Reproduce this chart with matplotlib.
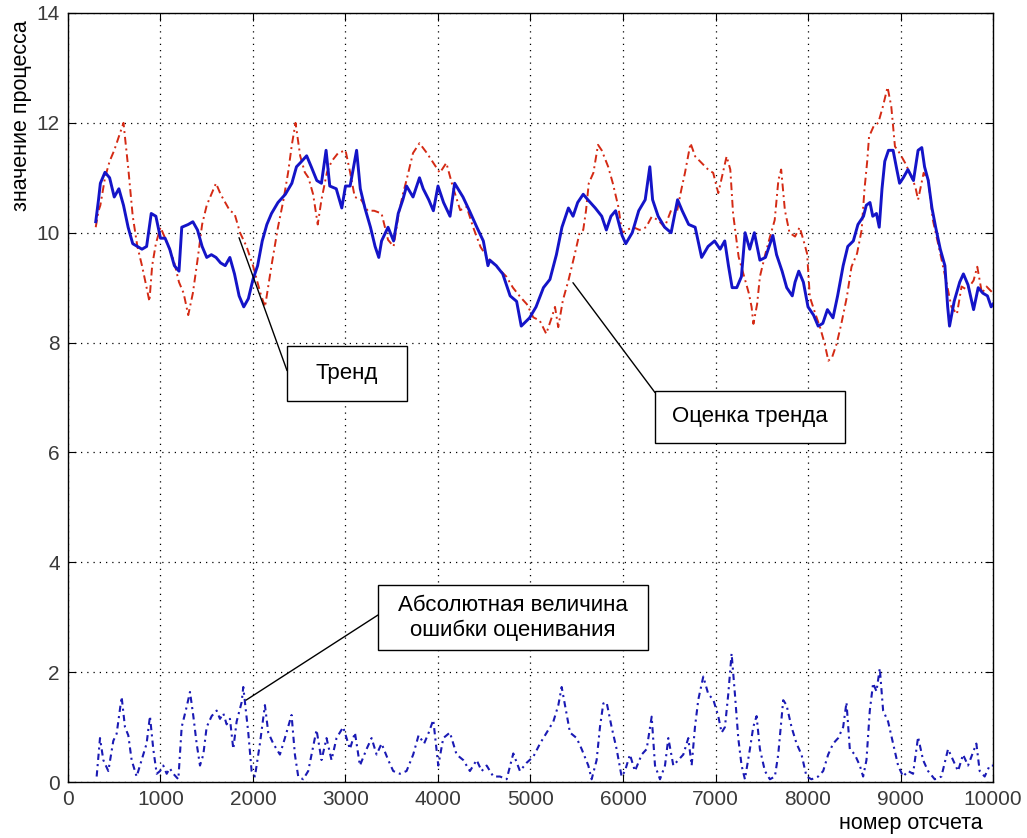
import matplotlib.pyplot as plt
from matplotlib.patches import Rectangle

# Тренд (синяя сплошная линия)
trend_x = [300, 330, 350, 400, 450, 500, 550, 600, 650, 700, 750, 800, 850, 900, 950,
           1000, 1050, 1100, 1150, 1200, 1230, 1300, 1350, 1400, 1450, 1500, 1550, 1600,
           1650, 1700, 1750, 1800, 1850, 1900, 1950, 2000, 2050, 2100, 2150, 2200, 2270,
           2350, 2420, 2470, 2510, 2580, 2630, 2690, 2740, 2790, 2830, 2900, 2960, 3000,
           3050, 3120, 3160, 3210, 3270, 3320, 3360, 3390, 3460, 3520, 3570, 3620, 3660,
           3730, 3800, 3840, 3900, 3950, 4000, 4060, 4130, 4180, 4270, 4340, 4420, 4490,
           4540, 4560, 4630, 4700, 4780, 4850, 4900, 4990, 5060, 5140, 5210, 5280, 5340,
           5410, 5460, 5510, 5570, 5620, 5700, 5770, 5820, 5870, 5920, 5990, 6030, 6100,
           6170, 6240, 6290, 6320, 6380, 6450, 6520, 6590, 6640, 6710, 6780, 6850, 6920,
           6990, 7050, 7100, 7140, 7180, 7230, 7280, 7320, 7370, 7420, 7480, 7540, 7590,
           7620, 7660, 7720, 7770, 7830, 7860, 7900, 7950, 8000, 8060, 8110, 8160, 8210,
           8270, 8320, 8380, 8430, 8490, 8540, 8600, 8630, 8670, 8700, 8740, 8770, 8800,
           8830, 8870, 8920, 8960, 8990, 9030, 9080, 9140, 9190, 9230, 9260, 9300, 9340,
           9380, 9430, 9480, 9510, 9530, 9580, 9640, 9680, 9730, 9790, 9840, 9890, 9940,
           9980, 10000]
trend_y = [10.2, 10.6, 10.9, 11.1, 11.0, 10.65, 10.8, 10.5, 10.1, 9.8, 9.75, 9.7, 9.75, 10.35, 10.3,
           9.9, 9.9, 9.7, 9.4, 9.3, 10.1, 10.15, 10.2, 10.05, 9.75, 9.55, 9.6, 9.55,
           9.45, 9.4, 9.55, 9.25, 8.85, 8.65, 8.8, 9.15, 9.4, 9.85, 10.15, 10.35, 10.55,
           10.7, 10.9, 11.2, 11.27, 11.4, 11.2, 10.95, 10.9, 11.5, 10.85, 10.8, 10.45, 10.85,
           10.85, 11.5, 10.8, 10.45, 10.1, 9.75, 9.55, 9.85, 10.1, 9.85, 10.35, 10.6, 10.85,
           10.65, 11.0, 10.8, 10.6, 10.4, 10.85, 10.55, 10.3, 10.9, 10.65, 10.4, 10.1, 9.85,
           9.4, 9.5, 9.4, 9.25, 8.85, 8.75, 8.3, 8.45, 8.65, 9.0, 9.15, 9.6, 10.1,
           10.45, 10.3, 10.55, 10.7, 10.6, 10.45, 10.3, 10.05, 10.3, 10.4, 9.95, 9.8, 10.0,
           10.4, 10.6, 11.2, 10.6, 10.3, 10.1, 10.0, 10.6, 10.4, 10.15, 10.1, 9.55, 9.75,
           9.85, 9.7, 9.85, 9.4, 9.0, 9.0, 9.2, 10.0, 9.7, 10.0, 9.5, 9.55, 9.8,
           9.95, 9.6, 9.3, 9.0, 8.85, 9.1, 9.3, 9.1, 8.65, 8.5, 8.3, 8.35, 8.6,
           8.45, 8.85, 9.4, 9.75, 9.85, 10.15, 10.3, 10.5, 10.55, 10.3, 10.35, 10.1, 10.8,
           11.3, 11.5, 11.5, 11.15, 10.9, 11.0, 11.15, 10.95, 11.5, 11.55, 11.2, 10.95, 10.45,
           10.1, 9.7, 9.4, 8.65, 8.3, 8.75, 9.1, 9.25, 9.05, 8.6, 9.0, 8.9, 8.85,
           8.65, 8.7]

# Оценка тренда (красная штрихпунктирная)
est_x = [300, 330, 350, 400, 450, 500, 550, 600, 650, 700, 750, 800, 850, 880, 910, 950,
         1000, 1050, 1100, 1150, 1200, 1250, 1300, 1350, 1400, 1450, 1500, 1550, 1600, 1650,
         1700, 1750, 1800, 1860, 1930, 2000, 2080, 2130, 2200, 2270, 2330, 2380, 2420, 2460,
         2510, 2560, 2600, 2650, 2700, 2740, 2800, 2850, 2920, 3000, 3050, 3100, 3170, 3240,
         3310, 3390, 3460, 3520, 3570, 3620, 3660, 3730, 3800, 3880, 3950, 4020, 4090, 4160,
         4240, 4310, 4380, 4460, 4530, 4600, 4670, 4740, 4810, 4890, 4960, 5030, 5100, 5170,
         5230, 5265, 5300, 5350, 5410, 5480, 5530, 5570, 5600, 5630, 5680, 5730, 5770, 5840,
         5890, 5950, 5990, 6040, 6110, 6180, 6250, 6310, 6380, 6450, 6520, 6580, 6630, 6670,
         6730, 6780, 6850, 6920, 6975, 7030, 7080, 7120, 7160, 7190, 7250, 7300, 7360, 7390,
         7410, 7450, 7480, 7540, 7590, 7640, 7680, 7710, 7750, 7800, 7860, 7910, 7950, 7990,
         8020, 8080, 8130, 8180, 8220, 8260, 8310, 8360, 8420, 8470, 8530, 8580, 8610, 8640,
         8660, 8710, 8760, 8810, 8860, 8900, 8940, 8990, 9050, 9100, 9160, 9190, 9250, 9300,
         9350, 9430, 9500, 9550, 9610, 9660, 9720, 9790, 9830, 9880, 9930, 10000]
est_y = [10.1, 10.4, 10.5, 11.0, 11.3, 11.5, 11.75, 12.0, 11.2, 10.3, 9.75, 9.4, 9.0, 8.75, 9.4, 9.8,
         10.1, 9.9, 9.7, 9.45, 9.1, 8.9, 8.5, 8.9, 9.5, 10.15, 10.5, 10.7, 10.9, 10.7,
         10.55, 10.4, 10.35, 10.0, 9.75, 9.4, 8.9, 8.65, 9.4, 10.1, 10.6, 11.1, 11.6, 12.0,
         11.4, 11.1, 11.0, 10.7, 10.15, 10.6, 11.1, 11.3, 11.45, 11.5, 11.1, 10.65, 10.6, 10.4,
         10.4, 10.35, 9.87, 9.75, 10.3, 10.7, 10.96, 11.45, 11.63, 11.45, 11.27, 11.09, 11.27, 10.84,
         10.41, 10.47, 10.1, 9.74, 9.56, 9.44, 9.32, 9.2, 9.0, 8.83, 8.7, 8.46, 8.4, 8.16,
         8.46, 8.65, 8.28, 8.77, 9.13, 9.62, 9.99, 10.05, 10.4, 10.9, 11.09, 11.6, 11.5, 11.2,
         10.9, 10.47, 10.0, 10.05, 10.1, 10.05, 10.1, 10.29, 10.23, 10.1, 10.41, 10.35, 10.78, 11.09,
         11.63, 11.39, 11.27, 11.15, 11.09, 10.72, 11.09, 11.39, 11.15, 10.35, 9.56, 9.26, 8.9, 8.65,
         8.34, 8.7, 9.2, 9.62, 9.93, 10.23, 10.96, 11.15, 10.41, 10.0, 9.93, 10.1, 9.87, 9.62,
         8.83, 8.52, 8.28, 7.98, 7.67, 7.73, 7.98, 8.34, 8.83, 9.38, 9.62, 10.05, 10.78, 11.3,
         11.75, 11.94, 12.0, 12.3, 12.65, 12.3, 11.57, 11.45, 11.27, 11.09, 10.84, 10.6, 11.09, 10.96,
         10.23, 9.62, 9.07, 8.65, 8.52, 9.02, 8.96, 9.13, 9.38, 8.9, 9.02, 8.9]

# Абсолютная величина ошибки оценивания
err_x = [310, 346, 382, 436, 490, 526, 580, 616, 652, 688, 742, 796, 850, 886, 922, 959,
         995, 1030, 1067, 1100, 1139, 1193, 1229, 1283, 1319, 1355, 1391, 1427, 1463, 1499,
         1553, 1607, 1643, 1679, 1715, 1751, 1787, 1823, 1877, 1895, 1949, 1985, 2021, 2075,
         2129, 2165, 2219, 2291, 2345, 2417, 2453, 2489, 2543, 2597, 2633, 2687, 2741, 2795,
         2849, 2903, 2975, 3048, 3102, 3156, 3228, 3282, 3336, 3390, 3462, 3516, 3588, 3660,
         3732, 3790, 3850, 3900, 3949, 4003, 4057, 4129, 4201, 4273, 4345, 4418, 4472, 4526,
         4598, 4670, 4742, 4814, 4886, 4958, 5030, 5103, 5175, 5247, 5301, 5337, 5373, 5427,
         5499, 5553, 5625, 5661, 5715, 5751, 5787, 5823, 5877, 5931, 5985, 6021, 6075, 6129,
         6202, 6256, 6310, 6346, 6400, 6454, 6490, 6544, 6598, 6652, 6706, 6742, 6778, 6814,
         6868, 6922, 6976, 7030, 7066, 7102, 7138, 7174, 7210, 7246, 7282, 7318, 7372, 7408,
         7444, 7480, 7534, 7588, 7642, 7678, 7732, 7768, 7822, 7876, 7930, 7984, 8038, 8110,
         8164, 8218, 8272, 8326, 8380, 8416, 8452, 8506, 8560, 8596, 8632, 8668, 8704, 8740,
         8776, 8812, 8866, 8920, 8974, 9028, 9082, 9136, 9190, 9244, 9298, 9370, 9442, 9514,
         9568, 9622, 9676, 9730, 9820, 9856, 9910, 9964, 10000]
err_y = [0.1, 0.8, 0.4, 0.2, 0.75, 0.88, 1.55, 1.0, 0.85, 0.4, 0.1, 0.4, 0.7, 1.2, 0.6, 0.15,
         0.2, 0.3, 0.15, 0.25, 0.15, 0.05, 1.0, 1.37, 1.64, 1.2, 0.7, 0.3, 0.5, 1.0,
         1.2, 1.3, 1.15, 1.25, 1.05, 1.15, 0.6, 1.1, 1.45, 1.73, 0.9, 0.2, 0.1, 0.7,
         1.4, 0.9, 0.7, 0.5, 0.8, 1.22, 0.5, 0.1, 0.05, 0.2, 0.5, 0.95, 0.4, 0.8,
         0.4, 0.8, 1.0, 0.6, 0.9, 0.3, 0.6, 0.8, 0.5, 0.7, 0.4, 0.2, 0.15, 0.2,
         0.5, 0.85, 0.7, 0.9, 1.13, 0.3, 0.8, 0.9, 0.5, 0.4, 0.2, 0.4, 0.2, 0.3,
         0.1, 0.1, 0.05, 0.52, 0.2, 0.35, 0.46, 0.7, 0.9, 1.1, 1.4, 1.73, 1.4, 0.9,
         0.8, 0.6, 0.3, 0.05, 0.4, 1.0, 1.43, 1.45, 1.0, 0.6, 0.1, 0.2, 0.5, 0.2,
         0.5, 0.6, 1.19, 0.3, 0.05, 0.3, 0.8, 0.3, 0.4, 0.5, 0.8, 0.3, 1.0, 1.5,
         1.92, 1.6, 1.5, 1.2, 0.9, 1.0, 1.6, 2.34, 1.6, 0.8, 0.3, 0.05, 0.6, 1.0,
         1.2, 0.6, 0.2, 0.05, 0.1, 0.5, 1.49, 1.4, 1.0, 0.7, 0.5, 0.1, 0.05, 0.1,
         0.2, 0.5, 0.7, 0.8, 1.0, 1.45, 0.6, 0.5, 0.3, 0.1, 0.4, 1.3, 1.8, 1.65,
         2.07, 1.3, 1.1, 0.7, 0.3, 0.1, 0.2, 0.15, 0.82, 0.4, 0.2, 0.05, 0.1, 0.6,
         0.4, 0.2, 0.5, 0.3, 0.7, 0.2, 0.1, 0.3, 0.3]

x_ticks = list(range(0, 10001, 1000))
y_ticks = list(range(0, 15, 2))

plt.rcParams['font.family'] = ['Liberation Sans', 'DejaVu Sans']

fig = plt.figure(figsize=(10.27, 8.38), dpi=100)
ax = fig.add_axes([0.0662, 0.0668, 0.9007, 0.9177])

ax.plot(est_x, est_y, color='#d42a14', lw=1.4, ls=(0, (4, 2, 1, 2)), zorder=3)
ax.plot(trend_x, trend_y, color='#1414c8', lw=2.1, zorder=4)
ax.plot(err_x, err_y, color='#1a1ab4', lw=1.5, ls=(0, (3, 2, 1, 2)), zorder=3)

ax.set_xlim(0, 10000)
ax.set_ylim(0, 14)
ax.set_xticks(x_ticks)
ax.set_yticks(y_ticks)
ax.tick_params(direction='in', top=True, right=True, length=6, labelsize=15,
               labelcolor='#3a3a3a', pad=6)
ax.grid(True, color='black', ls=(0, (1, 4)), lw=0.9)
for s in ax.spines.values():
    s.set_linewidth(1.0)

ax.text(-0.05, 0.991, 'значение процесса', transform=ax.transAxes, rotation=90,
        ha='center', va='top', fontsize=15.5)
ax.text(0.989, -0.04, 'номер отсчета', transform=ax.transAxes,
        ha='right', va='top', fontsize=15.5)

# подписи в рамках
boxes = [
    ('Тренд', 2368, 6.945, 1297, 1.0, (1849, 9.91), (2368, 7.49)),
    ('Оценка тренда', 6346, 6.18, 2054, 0.947, (5459, 9.09), (6346, 7.09)),
    ('Абсолютная величина\nошибки оценивания', 3351, 2.4, 2919, 1.18, (1924, 1.49), (3351, 3.04)),
]
for txt, bx, by, bw, bh, pt, end in boxes:
    ax.add_patch(Rectangle((bx, by), bw, bh, facecolor='white', edgecolor='black',
                           lw=1.0, zorder=5))
    ax.text(bx + bw / 2, by + bh / 2, txt, ha='center', va='center', fontsize=16,
            linespacing=1.25, zorder=6)
    ax.annotate('', xy=pt, xytext=end,
                arrowprops=dict(arrowstyle='-', color='black', lw=1.0,
                                shrinkA=0, shrinkB=0), zorder=5)

fig.savefig('out.png', dpi=100)
